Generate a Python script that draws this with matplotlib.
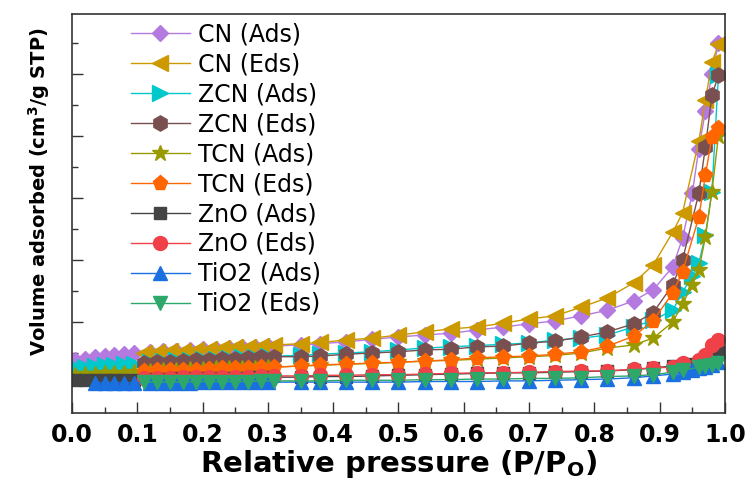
import numpy as np
import matplotlib
matplotlib.use('Agg')
from matplotlib import pyplot as plt

plt.rcParams['font.family'] = ['DejaVu Sans']
plt.rcParams['mathtext.default'] = 'regular'

# relative pressure points, adsorption (up) and desorption (down) branches
x_ads = [0.005, 0.02, 0.035, 0.05, 0.065, 0.08, 0.095,
         0.12, 0.14, 0.16, 0.18, 0.20, 0.22, 0.24, 0.26, 0.28, 0.30,
         0.35, 0.38, 0.42, 0.46, 0.50, 0.54, 0.58, 0.62, 0.66, 0.70, 0.74,
         0.78, 0.82, 0.86, 0.89, 0.92, 0.935, 0.95, 0.96, 0.97, 0.98, 0.99]
x_des = [0.99, 0.98, 0.97, 0.96, 0.935, 0.92, 0.89, 0.86, 0.82, 0.78, 0.74,
         0.70, 0.66, 0.62, 0.58, 0.54, 0.50, 0.46, 0.42, 0.38, 0.35, 0.31,
         0.29, 0.27, 0.25, 0.23, 0.21, 0.19, 0.17, 0.15, 0.13, 0.11]
x_tio2_ads = x_ads[2:]

cn_ads = [39, 41, 43, 45, 47, 48, 50,
          52, 53, 54, 55, 56, 57, 58, 59, 60, 61,
          63, 65, 68, 72, 76, 79, 82, 87, 92, 97, 102,
          110, 119, 134, 152, 189, 235, 308, 380, 440, 500, 550]
cn_des = [548, 519, 458, 392, 276, 245, 192, 163, 139, 124, 110,
          105, 98, 92, 89, 84, 79, 74, 71, 67, 65, 63,
          62, 60, 59, 58, 56, 55, 54, 53, 51, 50]
zcn_ads = [27, 28, 29, 30, 31, 32, 33,
           35, 37, 38, 39, 40, 41, 42, 43, 44, 45,
           46, 48, 50, 52, 55, 58, 60, 62, 64, 66, 71,
           74, 79, 92, 103, 119, 148, 175, 195, 240, 310, 498]
zcn_des = [498, 466, 382, 308, 200, 160, 115, 97, 84, 76, 69,
           66, 61, 60, 56, 55, 52, 50, 48, 45, 44, 44,
           43, 42, 41, 40, 39, 38, 37, 36, 35, 34]
tcn_ads = [15, 16, 16, 17, 17, 18, 19,
           21, 22, 23, 24, 24, 25, 25, 26, 26, 27,
           29, 30, 32, 33, 35, 37, 38, 40, 42, 44, 46,
           50, 58, 63, 74, 100, 129, 160, 184, 237, 310, 400]
tcn_des = [413, 398, 337, 269, 181, 147, 102, 77, 61, 52, 48,
           45, 44, 42, 39, 37, 35, 34, 32, 31, 29, 27,
           27, 26, 25, 25, 24, 23, 23, 22, 22, 21]
zno_ads = [6, 6, 6, 6, 7, 7, 7,
           8, 8, 9, 9, 9, 10, 10, 10, 11, 11,
           11, 12, 12, 13, 14, 15, 16, 17, 18, 18, 19,
           20, 21, 23, 26, 29, 31, 33, 35, 40, 48, 52]
zno_des = [71, 63, 47, 39, 34, 27, 26, 24, 21, 21, 20,
           19, 18, 18, 17, 16, 15, 15, 14, 14, 13, 13,
           13, 12, 12, 12, 11, 11, 11, 10, 10, 10]
tio2_ads = [2, 2, 2, 2, 2,
            2, 2, 2, 2, 3, 3, 3, 3, 3, 3,
            3, 3, 3, 3, 3, 4, 4, 4, 5, 5, 6,
            7, 8, 10, 13, 16, 19, 22, 25, 28, 31, 35]
tio2_des = [34, 31, 29, 27, 22, 19, 15, 13, 12, 10, 9,
            9, 8, 8, 7, 7, 6, 6, 6, 5, 5, 5,
            5, 4, 4, 4, 4, 4, 3, 3, 3, 3]

series = [
    ('CN (Ads)', x_ads, cn_ads, '#b57ae0', 'D', 8),
    ('CN (Eds)', x_des, cn_des, '#cc9900', '<', 11),
    ('ZCN (Ads)', x_ads, zcn_ads, '#00c8cc', '>', 11),
    ('ZCN (Eds)', x_des, zcn_des, '#7a4f4f', 'h', 11),
    ('TCN (Ads)', x_ads, tcn_ads, '#999900', '*', 12),
    ('TCN (Eds)', x_des, tcn_des, '#ff6600', 'p', 11),
    ('ZnO (Ads)', x_ads, zno_ads, '#444444', 's', 9),
    ('ZnO (Eds)', x_des, zno_des, '#f04048', 'o', 10),
    ('TiO2 (Ads)', x_tio2_ads, tio2_ads, '#1a70e0', '^', 10),
    ('TiO2 (Eds)', x_des, tio2_des, '#2ea86a', 'v', 10),
]

fig = plt.figure(figsize=(7.45, 4.86), dpi=100)
ax = fig.add_axes([0.0966, 0.150, 0.8765, 0.821])

for label, xs, ys, col, mk, ms in series:
    ax.plot(xs, ys, color=col, marker=mk, markersize=ms, linewidth=1.0, label=label)

ax.set_xlim(0, 1.0)
ax.set_ylim(-47, 597)
ax.set_xticks(np.arange(0, 1.01, 0.1))
ax.set_xticks(np.arange(0.05, 1.0, 0.1), minor=True)
ax.set_yticks(np.arange(0, 501, 100))
ax.set_yticks(np.arange(50, 551, 100), minor=True)
ax.set_yticklabels([])
ax.tick_params(axis='both', which='major', direction='in', length=8, width=1.0,
               color='#333333')
ax.tick_params(axis='both', which='minor', direction='in', length=4, width=1.0,
               color='#333333')
ax.tick_params(axis='x', labelsize=17, pad=7)
ax.set_xticklabels(['%.1f' % v for v in np.arange(0, 1.01, 0.1)], fontweight='bold')
for s in ax.spines.values():
    s.set_linewidth(1.2)
    s.set_color('#333333')

ax.set_xlabel('Relative pressure (P/P$_{O}$)', fontsize=21, fontweight='bold', labelpad=1)
ax.set_ylabel('Volume adsorbed (cm$^{3}$/g STP)', fontsize=14, fontweight='bold')
ax.yaxis.set_label_coords(-0.03, 0.556)

ax.legend(loc='upper left', bbox_to_anchor=(0.065, 1.02), frameon=False,
          fontsize=17, handlelength=2.5, handletextpad=0.35, labelspacing=0.25,
          borderpad=0.2)

plt.savefig('out.png', dpi=100)
